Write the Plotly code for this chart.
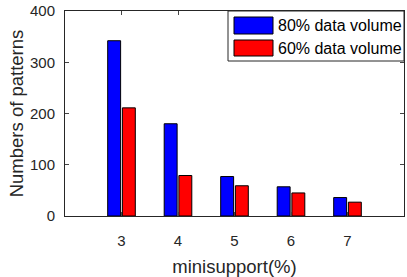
import plotly.graph_objects as go

categories = [3, 4, 5, 6, 7]
vol80 = [342, 180, 77, 57, 36]
vol60 = [211, 79, 59, 45, 27]
series_names = ["80% data volume", "60% data volume"]
colors = ["#0000FF", "#FF0000"]

FONT = "Liberation Sans, Arial, sans-serif"

fig = go.Figure()
for name, vals, col in zip(series_names, [vol80, vol60], colors):
    fig.add_trace(go.Bar(x=categories, y=vals, name=name, marker_color=col,
                         marker_line_color="black", marker_line_width=1,
                         showlegend=False))

# custom legend (MATLAB style wide swatches)
L = dict(l=65, r=3, t=11, b=61)
W, H = 407, 277
pw, ph = W - L["l"] - L["r"], H - L["t"] - L["b"]
def px(x): return (x - L["l"]) / pw
def py(y): return (H - L["b"] - y) / ph

shapes = [dict(type="rect", xref="paper", yref="paper", x0=px(228), x1=px(404),
               y0=py(61), y1=py(11), line=dict(color="#262626", width=1), fillcolor="white", layer="above")]
annotations = []
rows = [(17, 34), (40, 56)]
for (t, b), name, col in zip(rows, series_names, colors):
    shapes.append(dict(type="rect", xref="paper", yref="paper", x0=px(234), x1=px(273),
                       y0=py(b), y1=py(t), line=dict(color="black", width=1), fillcolor=col, layer="above"))
    annotations.append(dict(xref="paper", yref="paper", x=px(276), y=py((t + b) / 2 + 0.5),
                            text=name, showarrow=False, xanchor="left", yanchor="middle",
                            font=dict(family=FONT, size=16, color="black")))

fig.update_layout(
    width=W, height=H, margin=L,
    paper_bgcolor="white", plot_bgcolor="white",
    barmode="group", bargap=0.48, bargroupgap=0.12,
    font=dict(family=FONT, size=15, color="#262626"),
    shapes=shapes, annotations=annotations,
    xaxis=dict(range=[2, 8], tickvals=categories, ticks="inside", ticklen=4,
               showline=True, linecolor="#262626", linewidth=1, mirror="ticks",
               showgrid=False, zeroline=False, ticklabelstandoff=11, automargin=False,
               title=dict(text="minisupport(%)", standoff=18, font=dict(size=18.5))),
    yaxis=dict(range=[0, 400], tickvals=[0, 100, 200, 300, 400], ticks="inside", ticklen=4,
               showline=True, linecolor="#262626", linewidth=1, mirror="ticks",
               showgrid=False, zeroline=False, ticklabelstandoff=6, automargin=False,
               title=dict(text="Numbers of patterns", standoff=1, font=dict(size=18.5))),
)

fig.write_html("out.html", config={"displayModeBar": False},
               post_script="document.body.style.margin='0';document.body.style.overflow='hidden';")
